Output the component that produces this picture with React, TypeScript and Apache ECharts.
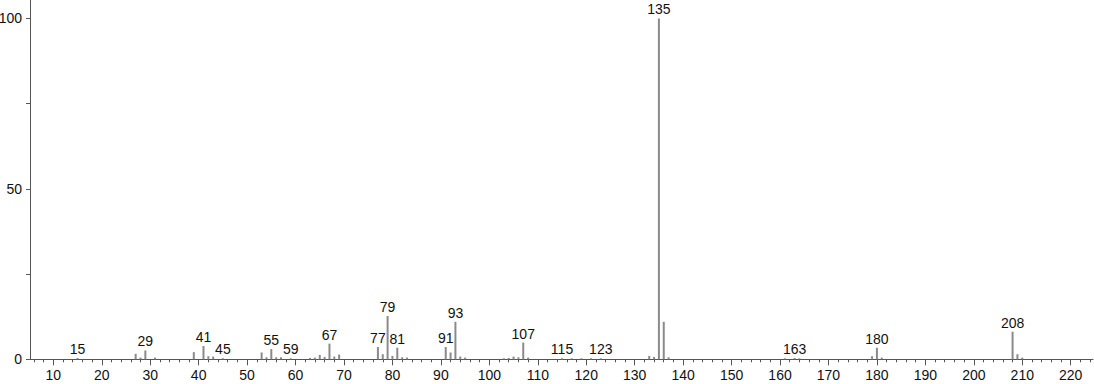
import React, { useEffect, useRef } from "react";
import * as echarts from "echarts";

// m/z values and relative intensities (%)
const mzValues = [
  15, 27, 28, 29, 31, 39, 41, 42, 43, 45, 53, 54, 55, 56, 57, 59, 63, 64, 65, 66, 67, 68, 69,
  77, 78, 79, 80, 81, 82, 83, 91, 92, 93, 94, 95, 103, 104, 105, 106, 107, 108, 115, 117, 119,
  121, 123, 133, 134, 135, 136, 137, 161, 163, 164, 179, 180, 181, 208, 209, 210,
];
const intensities = [
  0.4, 1.6, 0.5, 2.6, 0.5, 2.1, 3.9, 0.9, 0.8, 0.3, 2.0, 0.6, 3.0, 0.6, 0.6, 0.3, 0.4, 0.5, 1.3, 0.7, 4.6, 0.8, 1.4,
  3.6, 1.5, 12.7, 1.0, 3.4, 0.6, 0.5, 3.6, 2.0, 11.0, 0.8, 0.5, 0.3, 0.4, 0.8, 0.6, 4.9, 0.5, 0.3, 0.3, 0.3,
  0.3, 0.3, 1.0, 0.7, 100, 11.0, 0.6, 0.3, 0.4, 0.3, 0.9, 3.4, 0.5, 8.1, 1.5, 0.5,
];
const labeledPeaks = [15, 29, 41, 45, 55, 59, 67, 77, 79, 81, 91, 93, 107, 115, 123, 135, 163, 180, 208];
const xMajorTicks = [10, 20, 30, 40, 50, 60, 70, 80, 90, 100, 110, 120, 130, 140, 150, 160, 170, 180, 190, 200, 210, 220];
const yTicks = [0, 25, 50, 75, 100];
const yLabels = [0, 50, 100];

const X_MIN = 5.19;
const X_MAX = 224.6;
const Y_MAX = 105.4;

export default function App() {
  const ref = useRef<HTMLDivElement>(null);
  useEffect(() => {
    if (!ref.current) return;
    const chart = echarts.init(ref.current, null, { renderer: "svg" });
    const minorTicks: number[] = [];
    for (let v = 6; v <= 224; v += 2) if (v % 10 !== 0) minorTicks.push(v);
    const axisColor = "#555";
    const font = "Liberation Sans, Arial, sans-serif";
    const data = mzValues.map((mz, i) => ({
      value: [mz, intensities[i]],
      label: { show: labeledPeaks.includes(mz) },
    }));
    chart.setOption({
      animation: false,
      grid: { left: 30, right: 1, top: 0, bottom: 24.7, containLabel: false, outerBoundsMode: "none" },
      xAxis: [
        {
          type: "value",
          min: X_MIN,
          max: X_MAX,
          position: "bottom",
          splitLine: { show: false },
          axisLine: { show: true, lineStyle: { color: axisColor, width: 1 } },
          axisTick: { show: true, length: 6, customValues: xMajorTicks, lineStyle: { color: axisColor } },
          axisLabel: {
            show: true,
            customValues: xMajorTicks,
            margin: 9,
            fontSize: 14,
            color: "#111",
            fontFamily: font,
          },
        },
        {
          type: "value",
          min: X_MIN,
          max: X_MAX,
          position: "bottom",
          splitLine: { show: false },
          axisLine: { show: false },
          axisTick: { show: true, length: 3, customValues: minorTicks, lineStyle: { color: axisColor } },
          axisLabel: { show: false },
        },
      ],
      yAxis: {
        type: "value",
        min: 0,
        max: Y_MAX,
        splitLine: { show: false },
        axisLine: { show: true, lineStyle: { color: axisColor, width: 1 } },
        axisTick: { show: true, length: 4, customValues: yTicks, lineStyle: { color: axisColor } },
        axisLabel: {
          show: true,
          customValues: yLabels,
          margin: 8,
          fontSize: 14,
          color: "#111",
          fontFamily: font,
        },
      },
      series: [
        {
          type: "bar",
          xAxisIndex: 0,
          barWidth: 2,
          itemStyle: { color: "#8a8a8a" },
          label: {
            position: "top",
            distance: 2,
            fontSize: 14,
            color: "#111",
            fontFamily: font,
            formatter: (p: any) => String(p.value[0]),
          },
          data,
        },
      ],
    });
    return () => chart.dispose();
  }, []);
  return <div ref={ref} style={{ position: "fixed", left: 0, top: 0, width: 1094, height: 384, background: "#fff" }} />;
}
